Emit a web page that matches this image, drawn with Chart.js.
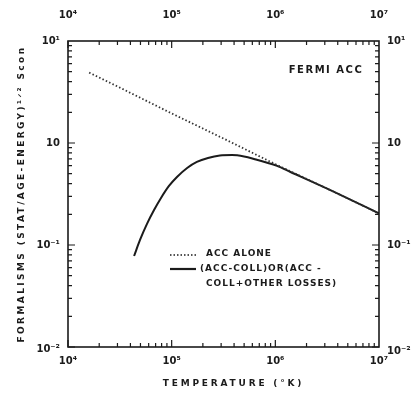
<!DOCTYPE html>
<html>
<head>
<meta charset="utf-8">
<script src="https://cdn.jsdelivr.net/npm/chart.js@4.4.0/dist/chart.umd.min.js"></script>
<style>
  html, body { margin: 0; padding: 0; background: #fff; }
  #wrap { width: 412px; height: 397px; position: relative; }
</style>
</head>
<body>
<div id="wrap"><canvas id="chart"></canvas></div>
<script>
// temperatura (K) y valores
const accAloneT = [1.6e4, 3.2e4, 1e5, 3.2e5, 1e6, 3.2e6, 1e7];
const accAloneV = [4.9, 3.47, 1.95, 1.1, 0.62, 0.355, 0.204];

const accCollT = [4.34e4, 4.95e4, 5.78e4, 6.76e4, 7.89e4, 9.42e4, 1.125e5, 1.41e5, 1.75e5, 2.24e5, 2.92e5,
                  3.82e5, 4.99e5, 6.5e5, 8.5e5, 1.04e6, 1.4e6, 3.2e6, 1e7];
const accCollV = [0.078, 0.112, 0.161, 0.22, 0.289, 0.379, 0.464, 0.569, 0.652, 0.713, 0.754,
                  0.762, 0.738, 0.689, 0.637, 0.596, 0.52, 0.355, 0.204];

const xTicks = [1e4, 1e5, 1e6, 1e7];
const xTickLabels = ['10⁴', '10⁵', '10⁶', '10⁷'];
const yTicks = [10, 1, 0.1, 0.01];
const yTickLabels = ['10¹', '10', '10⁻¹', '10⁻²'];

const toPoints = (xs, ys) => xs.map((x, i) => ({ x: x, y: ys[i] }));

const ink = '#1b1b1b';
const font = 'bold 9px "DejaVu Sans", sans-serif';

// marco, marcas y textos dibujados con las escalas de Chart.js
const framePlugin = {
    id: 'frame',
    afterDraw(chart) {
        const ctx = chart.ctx;
        const a = chart.chartArea;
        const xs = chart.scales.x;
        const ys = chart.scales.y;
        ctx.save();
        ctx.strokeStyle = ink;
        ctx.lineWidth = 1.6;
        ctx.strokeRect(a.left, a.top, a.right - a.left, a.bottom - a.top);

        ctx.lineWidth = 1.2;
        // marcas del eje x (arriba y abajo)
        for (let d = 4; d < 7; d++) {
            for (let m = 1; m <= 9; m++) {
                const v = m * Math.pow(10, d);
                const px = xs.getPixelForValue(v);
                const len = m === 1 ? 7 : 4;
                ctx.beginPath();
                ctx.moveTo(px, a.bottom); ctx.lineTo(px, a.bottom - len);
                ctx.moveTo(px, a.top); ctx.lineTo(px, a.top + len);
                ctx.stroke();
            }
        }
        // marcas del eje y (izquierda y derecha)
        for (let d = -2; d < 1; d++) {
            for (let m = 1; m <= 9; m++) {
                const v = m * Math.pow(10, d);
                const py = ys.getPixelForValue(v);
                const len = m === 1 ? 7 : 4;
                ctx.beginPath();
                ctx.moveTo(a.left, py); ctx.lineTo(a.left + len, py);
                ctx.moveTo(a.right, py); ctx.lineTo(a.right - len, py);
                ctx.stroke();
            }
        }

        ctx.fillStyle = ink;
        ctx.font = 'bold 10px "DejaVu Sans", sans-serif';
        ctx.textBaseline = 'middle';
        ctx.textAlign = 'center';
        xTicks.forEach((v, i) => {
            const px = xs.getPixelForValue(v);
            ctx.fillText(xTickLabels[i], px, a.top - 26);
            ctx.fillText(xTickLabels[i], px, a.bottom + 14);
        });
        yTicks.forEach((v, i) => {
            const py = ys.getPixelForValue(v);
            ctx.textAlign = 'right';
            ctx.fillText(yTickLabels[i], a.left - 8, py + (i === 3 ? 2 : 0));
            ctx.textAlign = 'left';
            ctx.fillText(yTickLabels[i], a.right + 8, py + (i === 3 ? 4 : 0));
        });

        // titulos de ejes
        ctx.font = font;
        ctx.letterSpacing = '2.8px';
        ctx.textAlign = 'center';
        ctx.fillText('TEMPERATURE (°K)', (a.left + a.right) / 2 + 10, 384);

        ctx.save();
        ctx.translate(22, (a.top + a.bottom) / 2);
        ctx.rotate(-Math.PI / 2);
        ctx.letterSpacing = '2.4px';
        ctx.fillText('FORMALISMS (STAT/AGE-ENERGY)¹ᐟ² Scon', 0, 0);
        ctx.restore();

        ctx.letterSpacing = '1.5px';
        ctx.font = 'bold 10px "DejaVu Sans", sans-serif';
        ctx.fillText('FERMI ACC', 326, 70);

        // leyenda
        ctx.font = font;
        ctx.letterSpacing = '1px';
        ctx.textAlign = 'left';
        ctx.lineWidth = 1.6;
        ctx.setLineDash([1.5, 2]);
        ctx.beginPath(); ctx.moveTo(170, 255); ctx.lineTo(196, 255); ctx.stroke();
        ctx.setLineDash([]);
        ctx.lineWidth = 2.2;
        ctx.beginPath(); ctx.moveTo(170, 269); ctx.lineTo(196, 269); ctx.stroke();
        ctx.fillText('ACC ALONE', 206, 254);
        ctx.fillText('(ACC-COLL)OR(ACC -', 200, 269);
        ctx.fillText('COLL+OTHER LOSSES)', 206, 284);
        ctx.restore();
    }
};

new Chart(document.getElementById('chart'), {
    type: 'line',
    data: {
        datasets: [
            {
                label: 'ACC ALONE',
                data: toPoints(accAloneT, accAloneV),
                borderColor: '#333',
                borderWidth: 1.8,
                borderDash: [1.5, 2.2],
                pointRadius: 0,
                tension: 0
            },
            {
                label: '(ACC-COLL)OR(ACC - COLL+OTHER LOSSES)',
                data: toPoints(accCollT, accCollV),
                borderColor: ink,
                borderWidth: 2,
                pointRadius: 0,
                cubicInterpolationMode: 'monotone'
            }
        ]
    },
    options: {
        responsive: true,
        maintainAspectRatio: false,
        animation: false,
        layout: { padding: { left: 68, right: 33, top: 41, bottom: 50 } },
        plugins: { legend: { display: false }, tooltip: { enabled: false } },
        scales: {
            x: { type: 'logarithmic', min: 1e4, max: 1e7, display: false },
            y: { type: 'logarithmic', min: 0.01, max: 10, display: false }
        }
    },
    plugins: [framePlugin]
});
</script>
</body>
</html>
